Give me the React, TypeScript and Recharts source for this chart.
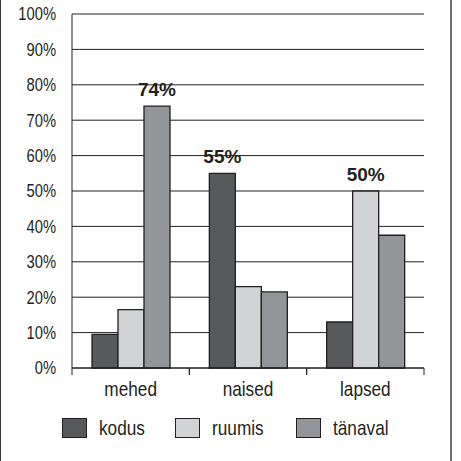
import { BarChart, Bar, XAxis, YAxis, CartesianGrid, Legend, LabelList } from "recharts";

const categories = ["mehed", "naised", "lapsed"];
const kodus = [9.5, 55, 13];
const ruumis = [16.5, 23, 50];
const tanaval = [74, 21.5, 37.5];
const yTicks = [0, 10, 20, 30, 40, 50, 60, 70, 80, 90, 100];

// which bars carry a value label (category index per series)
const labeled: Record<string, number[]> = {
  kodus: [1],
  ruumis: [2],
  tanaval: [0],
};

const series = [
  { key: "kodus", name: "kodus", color: "#58595b", w: 47 },
  { key: "ruumis", name: "ruumis", color: "#d1d3d4", w: 55 },
  { key: "tanaval", name: "tänaval", color: "#939598", w: 57 },
];

const data = categories.map((c, i) => ({
  name: c,
  kodus: kodus[i],
  ruumis: ruumis[i],
  tanaval: tanaval[i],
}));

const INK = "#231f20";
const FONT = '"Liberation Sans", Arial, sans-serif';
const SQUEEZE = 0.82; // condensed look

const CategoryTick = (props: any) => {
  const { x, y, payload } = props;
  const half = payload?.offset ?? 0;
  return (
    <g>
      <line x1={x - half} x2={x - half} y1={y} y2={y + 7} stroke={INK} />
      <line x1={x + half} x2={x + half} y1={y} y2={y + 7} stroke={INK} />
      <text
        transform={`translate(${x},${y + 13}) scale(${SQUEEZE},1)`}
        dy="0.71em"
        textAnchor="middle"
        fill={INK}
        fontSize={21}
        fontFamily={FONT}
      >
        {payload.value}
      </text>
    </g>
  );
};

const ValueTick = (props: any) => {
  const { x, y, payload } = props;
  return (
    <text
      transform={`translate(${x},${y}) scale(${SQUEEZE},1)`}
      dy="0.36em"
      textAnchor="end"
      fill={INK}
      fontSize={18}
      fontFamily={FONT}
    >
      {`${payload.value}%`}
    </text>
  );
};

const makeLabel = (key: string) => (props: any) => {
  const { x, y, width, value, index } = props;
  if (!labeled[key].includes(index)) return null;
  return (
    <text x={x + width / 2} y={y - 10} textAnchor="middle" fill={INK} fontSize={19} fontWeight="bold" fontFamily={FONT}>
      {`${value}%`}
    </text>
  );
};

const LegendContent = () => (
  <div style={{ display: "flex", justifyContent: "center", alignItems: "center", paddingTop: 8, gap: 29, fontFamily: FONT, fontSize: 21, color: INK }}>
    {series.map((s) => (
      <div key={s.key} style={{ display: "flex", alignItems: "center" }}>
        <span style={{ display: "inline-block", width: 23, height: 18, background: s.color, border: `1.3px solid ${INK}`, marginRight: 12 }} />
        <span style={{ display: "inline-block", width: s.w, whiteSpace: "nowrap" }}>
          <span style={{ display: "inline-block", transform: `scaleX(${SQUEEZE})`, transformOrigin: "left center" }}>{s.name}</span>
        </span>
      </div>
    ))}
  </div>
);

export default function App() {
  return (
    <div style={{ position: "absolute", left: 0, top: 0, width: 461, height: 461, background: "#fff" }}>
      <div style={{ position: "absolute", left: 0, top: 0, width: 1, height: 461, background: "#3a3a3a" }} />
      <div style={{ position: "absolute", left: 450, top: 0, width: 2, height: 461, background: "#6d6e71" }} />
      <BarChart
        width={451}
        height={461}
        data={data}
        margin={{ top: 14, right: 27, left: 0, bottom: 0 }}
        barGap={0}
        barSize={26}
      >
        <CartesianGrid vertical={false} stroke={INK} strokeWidth={1} />
        <XAxis
          dataKey="name"
          height={40}
          axisLine={{ stroke: INK }}
          tickLine={false}
          tickSize={0}
          tickMargin={0}
          interval={0}
          tick={<CategoryTick />}
        />
        <YAxis
          width={72}
          domain={[0, 100]}
          ticks={yTicks}
          interval={0}
          axisLine={{ stroke: INK }}
          tickLine={false}
          tickSize={0}
          tickMargin={16}
          tick={<ValueTick />}
        />
        <Legend
          verticalAlign="bottom"
          height={53}
          content={<LegendContent />}
          wrapperStyle={{ height: 53, width: 451, left: 0 }}
        />
        {series.map((s) => (
          <Bar key={s.key} dataKey={s.key} name={s.name} fill={s.color} stroke={INK} strokeWidth={1.3} isAnimationActive={false}>
            <LabelList dataKey={s.key} content={makeLabel(s.key)} />
          </Bar>
        ))}
      </BarChart>
    </div>
  );
}
